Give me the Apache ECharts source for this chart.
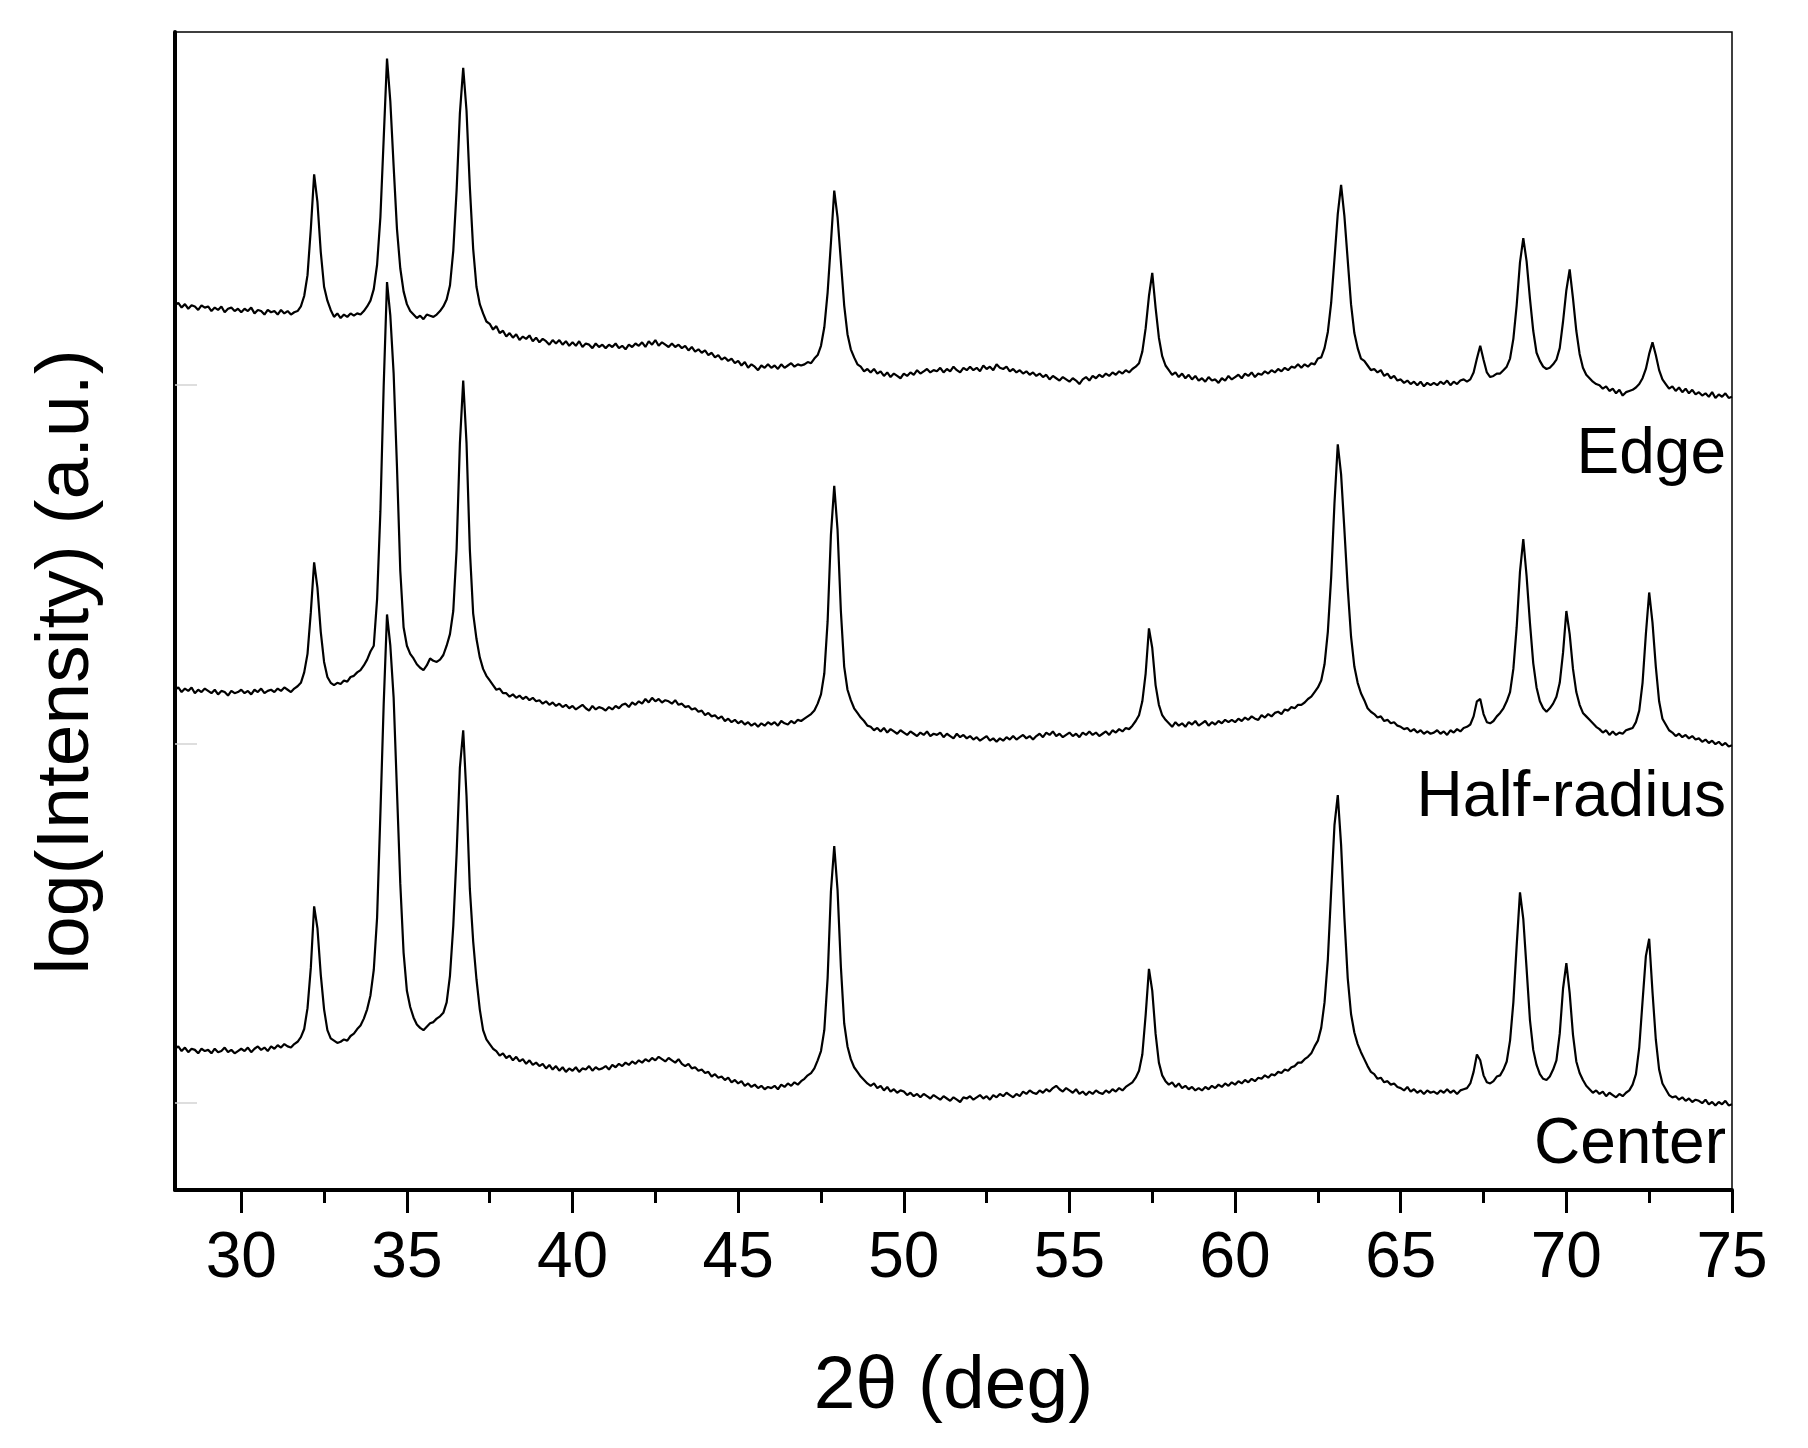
<!DOCTYPE html>
<html>
<head>
<meta charset="utf-8">
<title>XRD patterns - Edge / Half-radius / Center</title>
<script src="https://cdn.jsdelivr.net/npm/echarts@6/dist/echarts.min.js"></script>
<style>
  html, body { margin: 0; padding: 0; background: #fff; }
  #chart { width: 1808px; height: 1448px; }
</style>
</head>
<body>
<div id="chart"></div>
<script>
'use strict';

// scan grid: 2θ from 28° to 75°, one reading every 0.1°
const scanStart = 28;
const scanStep = 0.1;

// log(Intensity), stacked with an offset (a.u.), one row per degree
const edge = [
  76.4, 76.6, 76.2, 76.5, 76.1, 76.4, 76.3, 76.0, 76.4, 76.2,
  76.3, 75.9, 76.2, 76.0, 76.3, 75.8, 76.1, 76.2, 75.9, 76.1,
  75.8, 76.1, 75.9, 76.2, 75.7, 76.0, 75.9, 75.6, 76.0, 75.8,
  75.9, 75.6, 76.0, 75.7, 75.9, 75.6, 75.8, 75.9, 76.3, 77.2,
  79.0, 83.0, 87.7, 85.3, 81.0, 78.0, 76.8, 76.0, 75.4, 75.7,
  75.3, 75.6, 75.4, 75.7, 75.5, 75.7, 75.6, 75.9, 76.3, 76.8,
  77.8, 79.9, 84.0, 90.8, 97.7, 94.0, 88.4, 83.0, 79.6, 77.6,
  76.5, 75.9, 75.6, 75.3, 75.5, 75.2, 75.6, 75.5, 75.4, 75.6,
  75.9, 76.3, 76.9, 78.1, 81.1, 86.3, 93.0, 96.9, 93.2, 86.6,
  81.3, 78.0, 76.5, 75.7, 75.0, 74.8, 74.3, 74.6, 74.0, 74.2,
  73.7, 74.0, 73.6, 73.9, 73.4, 73.7, 73.5, 73.8, 73.3, 73.6,
  73.2, 73.5, 73.3, 73.0, 73.4, 73.1, 73.4, 73.0, 73.3, 72.9,
  73.2, 72.9, 73.3, 72.8, 73.1, 73.0, 72.7, 73.1, 72.8, 73.0,
  72.7, 73.0, 72.8, 73.1, 72.7, 72.9, 72.6, 73.0, 72.8, 73.1,
  72.9, 73.2, 72.8, 73.3, 73.0, 73.4, 72.9, 73.2, 73.0, 72.8,
  73.1, 72.8, 73.0, 72.7, 72.9, 72.5, 72.8, 72.4, 72.6, 72.3,
  72.5, 72.1, 72.3, 71.9, 72.1, 71.7, 71.9, 71.6, 71.8, 71.4,
  71.6, 71.2, 71.5, 71.0, 71.3, 71.1, 70.8, 71.2, 71.0, 71.3,
  71.0, 71.2, 70.9, 71.3, 71.0, 71.2, 71.4, 71.1, 71.3, 71.2,
  71.3, 71.5, 71.4, 71.8, 72.1, 72.9, 74.5, 77.5, 81.8, 86.3,
  84.0, 80.2, 76.4, 73.9, 72.6, 71.9, 71.3, 71.1, 70.7, 70.9,
  70.6, 70.9, 70.5, 70.7, 70.3, 70.6, 70.2, 70.5, 70.3, 70.1,
  70.5, 70.3, 70.6, 70.4, 70.8, 70.5, 70.7, 70.9, 70.6, 70.8,
  70.7, 71.0, 70.6, 70.9, 70.7, 71.1, 70.8, 70.6, 71.0, 70.8,
  71.1, 70.8, 71.0, 70.7, 71.2, 70.9, 71.1, 70.8, 71.3, 71.0,
  70.9, 71.1, 70.7, 70.9, 70.6, 70.8, 70.5, 70.7, 70.4, 70.6,
  70.3, 70.5, 70.2, 70.4, 70.0, 70.3, 70.1, 69.9, 70.2, 70.0,
  69.8, 70.1, 69.9, 69.6, 70.0, 70.2, 69.9, 70.3, 70.1, 70.4,
  70.2, 70.5, 70.3, 70.6, 70.4, 70.7, 70.5, 70.8, 70.6, 70.9,
  71.1, 71.4, 72.4, 74.4, 77.2, 79.2, 76.2, 73.6, 72.0, 71.2,
  70.8, 70.4, 70.6, 70.2, 70.5, 70.1, 70.4, 70.0, 70.3, 69.9,
  70.1, 69.8, 70.2, 69.9, 70.0, 69.7, 70.1, 69.9, 70.3, 70.0,
  70.2, 70.4, 70.1, 70.5, 70.3, 70.6, 70.2, 70.5, 70.4, 70.7,
  70.5, 70.8, 70.6, 70.9, 70.7, 71.0, 70.8, 71.1, 71.0, 71.3,
  71.0, 71.3, 71.1, 71.4, 71.3, 71.8, 71.9, 72.7, 74.1, 76.6,
  80.4, 84.3, 86.8, 84.1, 80.3, 76.5, 74.0, 72.7, 71.8, 71.6,
  71.2, 70.8, 70.9, 70.6, 70.8, 70.3, 70.5, 70.1, 70.3, 69.9,
  70.0, 69.7, 69.9, 69.6, 69.8, 69.5, 69.8, 69.4, 69.7, 69.5,
  69.7, 69.5, 69.8, 69.6, 69.9, 69.5, 69.8, 69.6, 69.9, 70.0,
  69.8, 70.0, 70.6, 71.8, 72.9, 71.7, 70.6, 70.2, 70.3, 70.5,
  70.5, 70.8, 71.1, 71.8, 73.5, 76.4, 80.1, 82.2, 80.2, 77.0,
  74.2, 72.3, 71.6, 71.1, 70.9, 71.0, 71.3, 71.7, 72.7, 75.0,
  77.7, 79.5, 77.0, 74.2, 72.2, 71.0, 70.4, 70.1, 69.8, 69.6,
  69.5, 69.2, 69.4, 69.0, 69.2, 68.8, 69.1, 68.6, 68.9, 69.0,
  69.1, 69.3, 69.6, 70.1, 70.9, 72.2, 73.2, 72.1, 70.8, 70.0,
  69.6, 69.2, 69.4, 69.0, 69.3, 68.9, 69.2, 68.8, 69.1, 68.7,
  68.9, 68.6, 68.8, 68.5, 68.9, 68.4, 68.7, 68.5, 68.8, 68.4,
  68.5
];

const halfRadius = [
  43.2, 43.4, 43.0, 43.3, 43.1, 43.4, 42.9, 43.2, 43.0, 43.3,
  43.1, 42.9, 43.2, 42.8, 43.1, 43.0, 42.7, 43.1, 42.9, 43.0,
  43.2, 42.9, 43.1, 42.8, 43.2, 43.0, 43.3, 42.9, 43.1, 43.2,
  43.0, 43.3, 43.1, 43.4, 43.2, 43.0, 43.3, 43.5, 43.8, 44.7,
  46.3, 49.9, 54.2, 52.0, 48.2, 45.6, 44.3, 43.8, 43.6, 43.8,
  43.7, 44.0, 43.9, 44.3, 44.4, 44.7, 44.9, 45.3, 45.8, 46.5,
  47.0, 51.0, 58.6, 69.5, 78.4, 75.5, 70.5, 62.5, 53.5, 48.6,
  47.0, 46.3, 45.9, 45.4, 45.1, 44.9, 45.3, 45.9, 45.7, 45.6,
  45.8, 46.2, 47.0, 48.0, 50.0, 55.3, 64.5, 69.9, 64.5, 55.3,
  49.8, 47.6, 46.0, 45.0, 44.4, 44.0, 43.6, 43.2, 43.3, 42.9,
  42.9, 42.6, 42.8, 42.5, 42.7, 42.4, 42.6, 42.3, 42.5, 42.2,
  42.3, 42.0, 42.2, 41.9, 42.1, 41.8, 42.0, 41.7, 41.9, 41.6,
  41.8, 41.5, 41.7, 41.9, 41.6, 41.4, 41.8, 41.5, 41.7, 41.6,
  41.4, 41.7, 41.5, 41.8, 41.6, 41.9, 42.0, 41.7, 42.1, 41.9,
  42.2, 42.0, 42.4, 42.1, 42.5, 42.2, 42.4, 42.1, 42.3, 42.2,
  42.0, 42.3, 41.9, 42.0, 41.7, 41.8, 41.5, 41.6, 41.3, 41.4,
  41.0, 41.2, 40.9, 41.0, 40.7, 40.9, 40.5, 40.7, 40.4, 40.6,
  40.3, 40.5, 40.2, 40.4, 40.1, 40.3, 40.0, 40.3, 40.1, 40.4,
  40.2, 40.4, 40.1, 40.5, 40.3, 40.2, 40.5, 40.3, 40.6, 40.5,
  40.7, 40.9, 41.1, 41.4, 42.0, 42.8, 44.6, 49.1, 56.6, 60.8,
  57.0, 50.0, 45.2, 43.2, 42.3, 41.6, 41.2, 40.8, 40.5, 40.1,
  40.0, 39.7, 39.9, 39.6, 39.9, 39.5, 39.8, 39.6, 39.4, 39.7,
  39.5, 39.3, 39.6, 39.4, 39.2, 39.5, 39.3, 39.6, 39.2, 39.4,
  39.3, 39.5, 39.1, 39.4, 39.2, 39.0, 39.4, 39.1, 39.3, 39.0,
  39.2, 38.9, 39.1, 38.8, 39.0, 39.2, 38.8, 39.0, 38.7, 39.0,
  38.8, 39.1, 38.9, 39.2, 38.9, 39.1, 39.3, 39.0, 39.2, 38.9,
  39.2, 39.4, 39.1, 39.5, 39.3, 39.6, 39.2, 39.4, 39.1, 39.3,
  39.5, 39.2, 39.4, 39.1, 39.5, 39.3, 39.6, 39.3, 39.5, 39.2,
  39.4, 39.6, 39.3, 39.7, 39.5, 39.8, 39.6, 39.9, 39.8, 40.1,
  40.5, 41.0, 42.2, 44.6, 48.5, 46.8, 43.6, 41.9, 41.0, 40.6,
  40.3, 40.0, 40.4, 40.1, 40.3, 40.0, 40.4, 40.2, 40.5, 40.1,
  40.3, 40.5, 40.1, 40.4, 40.2, 40.5, 40.3, 40.6, 40.4, 40.6,
  40.4, 40.7, 40.5, 40.8, 40.6, 40.9, 40.7, 40.6, 41.0, 40.8,
  41.1, 40.9, 41.2, 41.3, 41.1, 41.5, 41.4, 41.7, 41.6, 41.9,
  41.9, 42.1, 42.4, 42.6, 43.0, 43.4, 44.0, 45.4, 48.2, 52.9,
  59.3, 64.4, 61.8, 57.0, 52.0, 47.8, 45.2, 43.8, 42.9, 42.3,
  41.6, 41.3, 41.1, 40.8, 40.9, 40.5, 40.6, 40.3, 40.4, 40.1,
  40.0, 39.8, 39.9, 39.6, 39.8, 39.5, 39.7, 39.4, 39.6, 39.4,
  39.5, 39.7, 39.4, 39.6, 39.3, 39.7, 39.5, 39.8, 39.6, 39.9,
  40.0, 40.2, 40.9, 42.2, 42.4, 41.1, 40.4, 40.3, 40.5, 40.9,
  41.2, 41.6, 42.2, 43.0, 45.0, 48.6, 53.4, 56.2, 53.0, 49.0,
  45.5, 43.4, 42.2, 41.6, 41.3, 41.6, 42.0, 42.6, 43.8, 46.4,
  50.0, 48.0, 45.0, 43.0, 41.9, 41.2, 40.9, 40.6, 40.3, 40.0,
  39.8, 39.5, 39.7, 39.3, 39.6, 39.3, 39.5, 39.4, 39.7, 39.8,
  39.9, 40.4, 41.4, 43.8, 48.0, 51.6, 49.0, 45.2, 42.2, 40.7,
  40.2, 39.7, 39.5, 39.2, 39.4, 39.1, 39.3, 39.0, 39.2, 38.9,
  39.0, 38.7, 38.9, 38.6, 38.8, 38.5, 38.7, 38.4, 38.6, 38.3,
  38.4
];

const center = [
  12.2, 12.4, 12.0, 12.3, 11.9, 12.2, 12.1, 11.8, 12.2, 12.0,
  12.1, 11.8, 12.2, 11.9, 12.0, 12.3, 11.9, 12.1, 11.8, 12.0,
  12.2, 12.0, 12.3, 11.9, 12.2, 12.4, 12.1, 12.3, 12.0, 12.4,
  12.2, 12.5, 12.3, 12.6, 12.4, 12.3, 12.6, 12.8, 13.2, 13.9,
  15.7, 19.2, 24.5, 22.6, 18.6, 15.6, 13.8, 13.1, 12.9, 12.7,
  12.8, 13.0, 12.9, 13.3, 13.5, 13.9, 14.2, 14.8, 15.6, 16.8,
  19.0, 23.5, 32.5, 42.0, 49.7, 47.0, 42.5, 34.5, 26.5, 20.5,
  17.2, 15.8, 14.9, 14.3, 14.0, 13.8, 14.1, 14.4, 14.5, 14.8,
  15.0, 15.3, 16.2, 18.5, 22.8, 29.0, 36.5, 39.7, 34.0, 26.0,
  21.5, 18.2, 15.6, 13.8, 13.0, 12.6, 12.2, 12.0, 11.6, 11.8,
  11.4, 11.6, 11.2, 11.5, 11.1, 11.3, 10.9, 11.2, 10.8, 11.0,
  10.7, 10.9, 10.5, 10.8, 10.4, 10.7, 10.3, 10.6, 10.2, 10.5,
  10.3, 10.6, 10.2, 10.5, 10.4, 10.7, 10.3, 10.6, 10.4, 10.5,
  10.7, 10.4, 10.8, 10.6, 10.9, 10.7, 11.0, 10.8, 11.1, 10.9,
  11.2, 11.0, 11.3, 11.1, 11.4, 11.2, 11.5, 11.3, 11.1, 11.4,
  11.2, 11.0, 11.3, 10.9, 10.7, 10.9, 10.5, 10.6, 10.3, 10.4,
  10.1, 10.2, 9.8, 10.0, 9.7, 9.8, 9.5, 9.7, 9.3, 9.5,
  9.2, 9.4, 9.0, 9.2, 8.9, 9.1, 8.8, 9.0, 8.7, 8.9,
  8.8, 9.0, 8.7, 9.1, 8.9, 9.2, 9.0, 9.3, 9.1, 9.4,
  9.6, 9.9, 10.1, 10.5, 11.2, 12.0, 13.8, 18.3, 25.8, 29.7,
  25.9, 19.3, 14.4, 12.4, 11.3, 10.6, 10.2, 9.8, 9.5, 9.2,
  9.0, 9.2, 8.8, 9.0, 8.6, 8.9, 8.5, 8.7, 8.4, 8.6,
  8.5, 8.2, 8.4, 8.1, 8.3, 8.0, 8.3, 8.1, 7.9, 8.2,
  8.0, 7.8, 8.1, 7.9, 7.7, 8.0, 7.8, 7.6, 8.0, 7.9,
  8.1, 7.8, 8.0, 8.2, 7.9, 8.1, 7.8, 8.2, 8.0, 8.3,
  8.1, 8.4, 8.2, 8.0, 8.3, 8.1, 8.5, 8.3, 8.6, 8.4,
  8.3, 8.6, 8.4, 8.7, 8.5, 8.8, 9.0, 8.7, 8.5, 8.8,
  8.6, 8.4, 8.7, 8.3, 8.5, 8.2, 8.5, 8.3, 8.6, 8.4,
  8.3, 8.6, 8.4, 8.7, 8.5, 8.8, 8.6, 8.9, 9.1, 9.3,
  9.7, 10.3, 11.7, 15.1, 19.1, 17.2, 13.5, 11.0, 9.9, 9.4,
  9.1, 9.3, 8.9, 9.2, 8.8, 9.0, 8.7, 8.9, 8.6, 8.8,
  8.6, 8.9, 8.7, 9.0, 8.8, 9.1, 8.9, 9.2, 9.0, 9.3,
  9.1, 9.4, 9.2, 9.5, 9.3, 9.6, 9.4, 9.7, 9.6, 9.9,
  9.7, 10.0, 9.9, 10.2, 10.1, 10.4, 10.3, 10.6, 10.7, 11.0,
  11.0, 11.3, 11.5, 11.8, 12.4, 12.9, 14.0, 16.2, 19.9, 25.8,
  31.5, 34.1, 29.8, 23.5, 18.3, 15.2, 13.6, 12.6, 11.9, 11.3,
  10.7, 10.2, 10.0, 9.6, 9.7, 9.3, 9.4, 9.1, 9.2, 8.9,
  8.8, 8.6, 8.9, 8.5, 8.7, 8.4, 8.6, 8.3, 8.6, 8.4,
  8.5, 8.3, 8.6, 8.4, 8.7, 8.4, 8.6, 8.3, 8.6, 8.7,
  8.8, 9.2, 10.2, 11.7, 11.2, 9.9, 9.3, 9.2, 9.4, 9.8,
  9.9, 10.4, 11.1, 12.9, 16.2, 21.1, 25.7, 23.4, 19.1, 14.7,
  12.1, 10.8, 10.0, 9.6, 9.5, 9.8, 10.4, 11.2, 13.5, 17.4,
  19.6, 17.0, 13.4, 11.1, 10.1, 9.5, 9.0, 8.7, 8.4, 8.6,
  8.3, 8.5, 8.1, 8.4, 8.2, 8.0, 8.3, 8.1, 8.4, 8.6,
  9.1, 10.0, 12.3, 16.3, 20.2, 21.7, 17.1, 13.0, 10.4, 9.2,
  8.7, 8.2, 8.0, 8.1, 7.8, 8.0, 7.7, 7.9, 7.6, 7.8,
  7.7, 7.5, 7.8, 7.4, 7.6, 7.3, 7.6, 7.4, 7.7, 7.3,
  7.4
];

const seriesNames = ['Edge', 'Half-radius', 'Center'];
const xMajorTicks = [30, 35, 40, 45, 50, 55, 60, 65, 70, 75];
const xMinorTicks = [32.5, 37.5, 42.5, 47.5, 52.5, 57.5, 62.5, 67.5, 72.5];
const yTicks = [7.5, 38.5, 69.5];

const FONT = '"Liberation Sans", Arial, Helvetica, sans-serif';

document.addEventListener('DOMContentLoaded', function() {
  initChart();
});

/**
 * pair every reading with its 2θ position
 */
function toPairs(values) {
  return values.map(function(v, i) {
    return [+(scanStart + i * scanStep).toFixed(2), v];
  });
}

function initChart() {
  const chartDom = document.getElementById('chart');
  const myChart = echarts.init(chartDom, null, { renderer: 'canvas' });

  const traces = [edge, halfRadius, center];

  // sample names, right-aligned under each trace
  const labelY = [455, 798, 1145];
  const graphics = seriesNames.map(function(name, i) {
    return {
      type: 'text',
      style: {
        text: name,
        x: 1726,
        y: labelY[i],
        align: 'right',
        verticalAlign: 'middle',
        font: '64px ' + FONT,
        fill: '#000'
      }
    };
  });

  const option = {
    animation: false,
    backgroundColor: '#fff',
    textStyle: { fontFamily: FONT },
    grid: {
      left: 175,
      right: 76,
      top: 32,
      bottom: 258,
      show: true,
      borderColor: '#000',
      borderWidth: 1.5,
      backgroundColor: 'transparent'
    },
    xAxis: [
      {
        type: 'value',
        min: 28,
        max: 75,
        position: 'bottom',
        name: '2θ (deg)',
        nameLocation: 'middle',
        nameGap: 160,
        nameTextStyle: { fontSize: 75, color: '#000', fontFamily: FONT },
        axisLine: { show: true, onZero: false, lineStyle: { color: '#000', width: 4 } },
        axisTick: {
          show: true,
          customValues: xMajorTicks,
          length: 23,
          lineStyle: { color: '#000', width: 3 }
        },
        axisLabel: {
          customValues: xMajorTicks,
          margin: 37,
          fontSize: 64,
          color: '#000',
          fontFamily: FONT
        },
        splitLine: { show: false }
      },
      {
        // minor ticks only
        type: 'value',
        min: 28,
        max: 75,
        position: 'bottom',
        axisLine: { show: false },
        axisTick: {
          show: true,
          customValues: xMinorTicks,
          length: 13,
          lineStyle: { color: '#000', width: 3 }
        },
        axisLabel: { show: false },
        splitLine: { show: false }
      }
    ],
    yAxis: {
      type: 'value',
      min: 0,
      max: 100,
      name: 'log(Intensity) (a.u.)',
      nameLocation: 'middle',
      nameGap: 70,
      nameTextStyle: {
        fontSize: 75,
        color: '#000',
        fontFamily: FONT,
        padding: [0, 102, 0, 0]
      },
      axisLine: { show: true, onZero: false, lineStyle: { color: '#000', width: 4 } },
      axisTick: {
        show: true,
        inside: true,
        customValues: yTicks,
        length: 22,
        lineStyle: { color: '#d4d4d4', width: 1.5 }
      },
      axisLabel: { show: false },
      splitLine: { show: false }
    },
    series: traces.map(function(values, i) {
      return {
        name: seriesNames[i],
        type: 'line',
        xAxisIndex: 0,
        data: toPairs(values),
        showSymbol: false,
        symbol: 'none',
        sampling: null,
        lineStyle: { color: '#000', width: 2.2 },
        emphasis: { disabled: true }
      };
    }),
    graphic: graphics
  };

  myChart.setOption(option);
}
</script>
</body>
</html>
